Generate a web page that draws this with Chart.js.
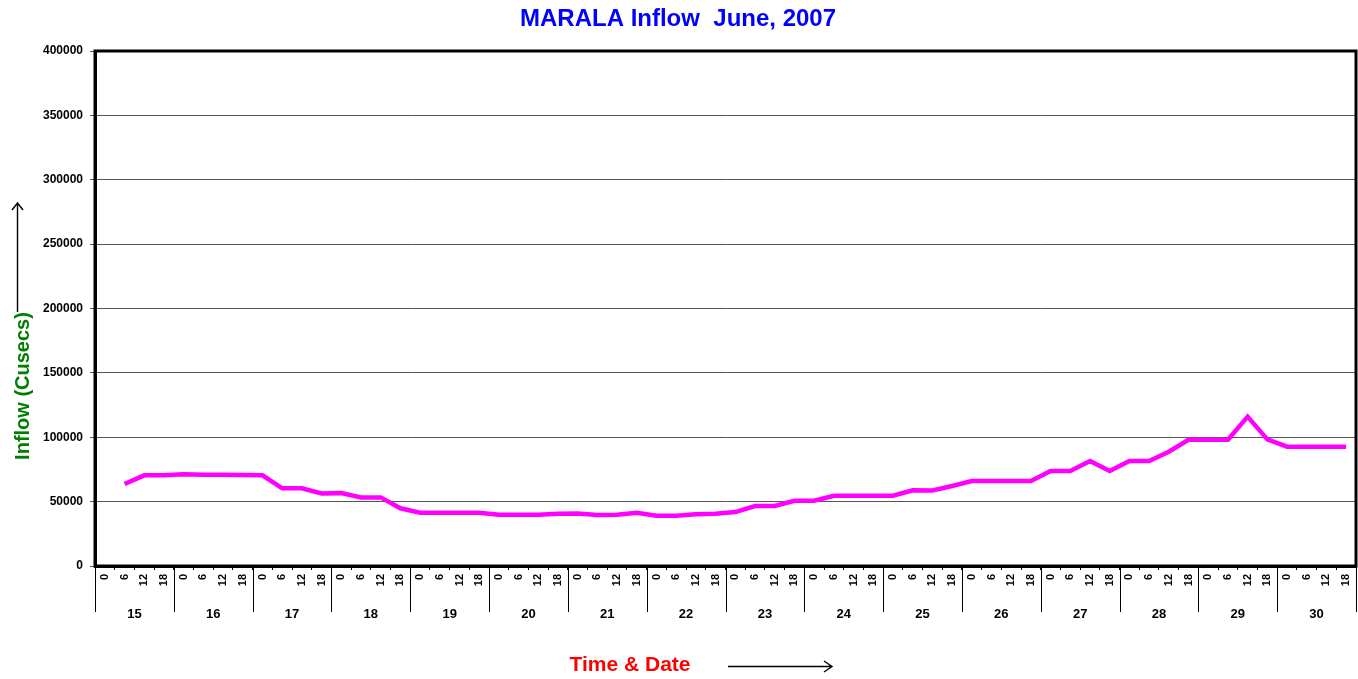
<!DOCTYPE html>
<html>
<head>
<meta charset="utf-8">
<title>MARALA Inflow June, 2007</title>
<script src="https://cdn.jsdelivr.net/npm/chart.js@4/dist/chart.umd.min.js"></script>
<style>
  html, body { margin: 0; padding: 0; background: #fff; }
  #wrap { width: 1358px; height: 679px; position: relative; }
</style>
</head>
<body>
<div id="wrap"><canvas id="inflowChart"></canvas></div>
<script>
// days of June 2007 and the four readings per day
const days = [15, 16, 17, 18, 19, 20, 21, 22, 23, 24, 25, 26, 27, 28, 29, 30];
const hours = ['0', '6', '12', '18'];

// inflow in cusecs, one value per reading (no reading at 15th 0 hrs)
const inflow = [
  null, 63700, 70400, 70400,
  71200, 70900, 70800, 70600,
  70400, 60300, 60300, 56400,
  56600, 53300, 53300, 44800,
  41400, 41400, 41400, 41300,
  39900, 39800, 39900, 40600,
  40800, 39600, 39800, 41300,
  39100, 39100, 40200, 40600,
  41900, 46600, 46600, 50700,
  50700, 54600, 54600, 54600,
  54600, 58800, 58600, 62100,
  66000, 66000, 66000, 66000,
  73800, 73800, 81500, 73800,
  81500, 81500, 88800, 98000,
  98000, 98000, 116000, 98300,
  92700, 92700, 92700, 92700
];

const yTicks = [0, 50000, 100000, 150000, 200000, 250000, 300000, 350000, 400000];

const labels = [];
days.forEach(() => hours.forEach(h => labels.push(h)));

Chart.defaults.font.family = "Arial, 'Liberation Sans', sans-serif";
Chart.defaults.font.weight = 'bold';
Chart.defaults.color = '#000';

// no label overhang padding, so the plot frame sits where the original has it
const noPad = s => { s.paddingLeft = 0; s.paddingRight = 0; s.paddingTop = 0; s.paddingBottom = 0; };

// frame, day separators and the two axis titles with their arrows
const extras = {
  id: 'extras',
  afterDraw(chart) {
    const { ctx, chartArea: a } = chart;
    const x2 = chart.scales.x2;
    ctx.save();
    ctx.strokeStyle = '#000';
    ctx.lineWidth = 1;
    for (let d = 0; d <= days.length; d++) {
      const px = Math.round(x2.getPixelForValue(d * 4 - 0.5)) + 0.5;
      ctx.beginPath();
      ctx.moveTo(px, a.bottom);
      ctx.lineTo(px, 612);
      ctx.stroke();
    }
    ctx.lineWidth = 3;
    ctx.strokeRect(a.left, a.top, a.right - a.left, a.bottom - a.top);

    // y title
    ctx.save();
    ctx.translate(23, 386);
    ctx.rotate(-Math.PI / 2);
    ctx.fillStyle = '#008000';
    ctx.font = "bold 20px Arial, 'Liberation Sans', sans-serif";
    ctx.textAlign = 'center';
    ctx.textBaseline = 'middle';
    ctx.fillText('Inflow (Cusecs)', 0, 0);
    ctx.restore();

    ctx.lineWidth = 1.4;
    ctx.beginPath();
    ctx.moveTo(17.5, 312); ctx.lineTo(17.5, 203);
    ctx.moveTo(12, 210); ctx.lineTo(17.5, 203); ctx.lineTo(23, 210);
    ctx.stroke();

    // x title
    ctx.fillStyle = '#ff0000';
    ctx.font = "bold 21px Arial, 'Liberation Sans', sans-serif";
    ctx.textAlign = 'center';
    ctx.textBaseline = 'middle';
    ctx.fillText('Time & Date', 630, 665);

    ctx.beginPath();
    ctx.moveTo(728, 666.5); ctx.lineTo(832, 666.5);
    ctx.moveTo(824, 661); ctx.lineTo(832, 666.5); ctx.lineTo(824, 672);
    ctx.stroke();
    ctx.restore();
  }
};

new Chart(document.getElementById('inflowChart'), {
  type: 'line',
  data: {
    labels: labels,
    datasets: [{
      label: 'Inflow',
      data: inflow,
      borderColor: '#ff00ff',
      backgroundColor: '#ff00ff',
      borderWidth: 4.5,
      pointRadius: 0,
      tension: 0,
      fill: false
    }]
  },
  options: {
    responsive: true,
    maintainAspectRatio: false,
    animation: false,
    layout: { padding: { left: 0, right: 2, top: 0, bottom: 0 } },
    plugins: {
      legend: { display: false },
      tooltip: { enabled: false },
      title: {
        display: true,
        text: 'MARALA Inflow  June, 2007',
        color: '#0000ff',
        font: { size: 24, weight: 'bold' },
        padding: { top: 5, bottom: 17.2 }
      }
    },
    scales: {
      x: {
        type: 'category',
        position: 'bottom',
        weight: 0,
        offset: true,
        grid: { display: true, drawOnChartArea: false, offset: true, tickLength: 4, color: '#000' },
        border: { color: '#000', width: 3 },
        ticks: {
          autoSkip: false, maxRotation: 90, minRotation: 90, padding: 4,
          font: { size: 11, weight: 'bold' }, color: '#000'
        },
        afterFit: s => { s.height = 30; noPad(s); }
      },
      x2: {
        type: 'linear',
        position: 'bottom',
        weight: 1,
        min: -0.5,
        max: 63.5,
        grid: { display: false },
        border: { display: false },
        afterBuildTicks: s => { s.ticks = days.map((d, i) => ({ value: i * 4 + 1.5 })); },
        ticks: {
          autoSkip: false, maxRotation: 0, padding: 3,
          font: { size: 13, weight: 'bold' }, color: '#000',
          callback: (v, i) => String(days[i])
        },
        afterFit: s => { s.height = 83; noPad(s); }
      },
      y: {
        min: 0,
        max: 400000,
        afterBuildTicks: s => { s.ticks = yTicks.map(v => ({ value: v })); },
        grid: { color: '#555', lineWidth: 1, tickLength: 5 },
        border: { color: '#000', width: 3 },
        ticks: {
          padding: 7, font: { size: 12, weight: 'bold' }, color: '#000',
          callback: v => String(v)
        },
        afterFit: s => { s.width = 95; noPad(s); }
      }
    }
  },
  plugins: [extras]
});
</script>
</body>
</html>
